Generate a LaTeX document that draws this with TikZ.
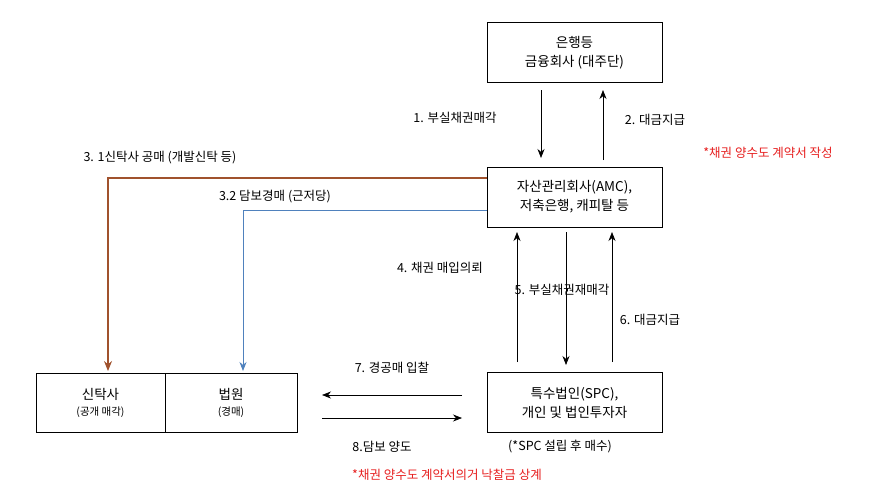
\documentclass[tikz,border=0pt]{standalone}
\usepackage{fontspec}
\setmainfont{Noto Sans CJK KR}
\usetikzlibrary{arrows.meta}
\definecolor{brn}{RGB}{160,82,45}
\definecolor{blu}{RGB}{79,129,189}
\definecolor{rd}{RGB}{230,30,30}
\begin{document}
\begin{tikzpicture}[x=1pt,y=-1pt,
  box/.style={draw,line width=0.9pt,minimum width=175pt,minimum height=60pt,align=center,font=\fontsize{13.5}{19}\selectfont},
  lab/.style={font=\fontsize{12.5}{14}\selectfont},
  arr/.style={-{Stealth[length=9pt,width=7pt]},line width=0.7pt}]
\useasboundingbox (0,0) rectangle (885,496);
\node[box] (bank) at (574.5,52.5) {은행등\\금융회사 (대주단)};
\node[box] (amc) at (574.5,197) {자산관리회사(AMC),\\저축은행, 캐피탈 등};
\node[box] (spc) at (574.5,402.5) {특수법인(SPC),\\개인 및 법인투자자};
\node[box,minimum width=129pt,minimum height=59pt] (trust) at (100.5,402.5) {신탁사\\[-3pt]{\fontsize{10.5}{12}\selectfont (공개 매각)}};
\node[box,minimum width=132pt,minimum height=59pt] (court) at (231,402.5) {법원\\[-3pt]{\fontsize{10.5}{12}\selectfont (경매)}};
\draw[arr] (541,90) -- (541,158);
\draw[arr] (603,160) -- (603,90);
\node[lab] at (455,118) {1. 부실채권매각};
\node[lab] at (655,120) {2. 대금지급};
\node[lab,text=rd] at (768,153) {*채권 양수도 계약서 작성};
\draw[brn,line width=1.2pt,-{Stealth[length=10pt,width=8pt]}] (amc.west |- 0,178) -| (108,371);
\draw[blu,line width=0.8pt,-{Stealth[length=9pt,width=7pt]}] (amc.west |- 0,210) -| (243,371);
\node[lab] at (160,158) {3. 1신탁사 공매 (개발신탁 등)};
\node[lab] at (275,197) {3.2 담보경매 (근저당)};
\draw[arr] (517,362) -- (517,232);
\draw[arr] (566,232) -- (566,365);
\draw[arr] (612,362) -- (612,232);
\node[lab] at (440,268) {4. 채권 매입의뢰};
\node[lab] at (562,290) {5. 부실채권재매각};
\node[lab] at (650,320) {6. 대금지급};
\draw[arr] (462,395) -- (322,395);
\draw[arr] (322,418) -- (462,418);
\node[lab] at (392,368) {7. 경공매 입찰};
\node[lab] at (382,447) {8.담보 양도};
\node[lab] at (560,447) {(*SPC 설립 후 매수)};
\node[lab,text=rd] at (447,475) {*채권 양수도 계약서의거 낙찰금 상계};
\end{tikzpicture}
\end{document}
